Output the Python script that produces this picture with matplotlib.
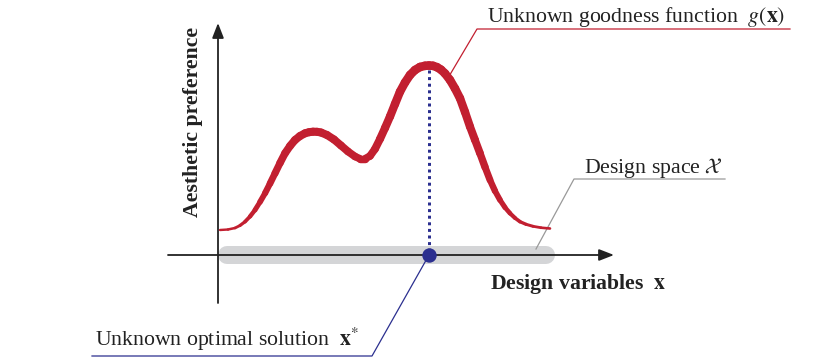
import matplotlib
matplotlib.use("Agg")
from matplotlib import pyplot as plt
from matplotlib.collections import LineCollection
import numpy as np

plt.rcParams['font.family'] = ['Liberation Serif', 'DejaVu Serif']
plt.rcParams['mathtext.fontset'] = 'stix'

# goodness curve (pixel-like coords, y grows downwards)
curve_x = [220, 228, 235, 240, 245, 250, 255, 260, 265, 270, 275, 280, 285, 290, 295, 300,
           305, 309, 313, 317, 321, 327, 334, 341, 348, 355, 360, 365, 370, 375, 380, 385,
           390, 395, 400, 405, 410, 415, 420, 425, 429, 433, 437, 441, 445, 450, 455, 460,
           465, 470, 475, 480, 485, 490, 495, 500, 505, 510, 515, 520, 526, 533, 541, 550]
curve_y = [230, 229.5, 228, 225.5, 221.7, 216.5, 210, 202, 193.3, 183.5, 173.3, 163, 153.3, 146, 140, 136,
           133.3, 132.2, 131.7, 131.8, 132.5, 135, 139.5, 145.5, 151.5, 156.5, 158.8, 158.8, 156, 149, 139, 128,
           116.5, 104, 91.7, 82.5, 75, 70, 67, 65.8, 65.5, 65.8, 67.2, 69.7, 73.5, 80, 88.5, 98.3,
           112, 126.7, 140, 153.3, 167, 180, 191, 200, 207.5, 213.3, 218, 221.7, 224.3, 226.3, 227.7, 228.5]

axis_y = 255          # x axis height
opt_x = 429           # optimum location
space_x = [227, 546]  # design space extent

label_goodness = r"Unknown goodness function  $g(\mathbf{x})$"
label_space = r"Design space $\mathcal{X}$"
label_opt = r"Unknown optimal solution  $\mathbf{x}^{*}$"
label_xaxis = r"Design variables  $\mathbf{x}$"
label_yaxis = "Aesthetic preference"

red = "#c21f30"
blue = "#2b2f8f"

fig = plt.figure(figsize=(8.3, 3.6), dpi=100)
ax = fig.add_axes([0, 0, 1, 1])
ax.set_xlim(0, 830)
ax.set_ylim(360, 0)
ax.axis("off")

px = 0.72  # points per pixel

# design space bar
ax.plot(space_x, [axis_y, axis_y], color="#d4d5d7", lw=18 * px, solid_capstyle="round", zorder=1)

# axes
ax.annotate("", xy=(614, axis_y), xytext=(168, axis_y),
            arrowprops=dict(arrowstyle="-|>,head_length=0.9,head_width=0.35", color="#222222",
                            lw=1.3, shrinkA=0, shrinkB=0), zorder=2)
ax.annotate("", xy=(218, 23), xytext=(218, 303),
            arrowprops=dict(arrowstyle="-|>,head_length=0.9,head_width=0.35", color="#222222",
                            lw=1.3, shrinkA=0, shrinkB=0), zorder=2)

# curve, thicker where it is higher
cx = np.array(curve_x, dtype=float)
cy = np.array(curve_y, dtype=float)
pts = np.column_stack([cx, cy]).reshape(-1, 1, 2)
segs = np.concatenate([pts[:-1], pts[1:]], axis=1)
h = axis_y - (cy[:-1] + cy[1:]) / 2
widths = (2.4 + 6.4 * (1 - np.exp(-(h - h.min()) / 45))) * px
lc = LineCollection(segs, colors=red, linewidths=widths, capstyle="round", joinstyle="round", zorder=3)
ax.add_collection(lc)

# optimum marker
peak_y = min(curve_y)
ax.plot([opt_x, opt_x], [peak_y + 4, axis_y], color=blue, lw=3 * px, linestyle=(0, (1, 1.2)), zorder=4)
ax.plot([opt_x], [axis_y], "o", color=blue, ms=13 * px, zorder=5)

# leader lines
ax.plot([448, 477, 790], [78, 29, 29], color=red, lw=0.9, zorder=2)
ax.plot([536, 574, 725], [249, 179, 179], color="#999999", lw=0.9, zorder=2)
ax.plot([opt_x, 372, 92], [axis_y, 356, 356], color=blue, lw=0.9, zorder=2)

# texts
fs = 15.7
ax.text(487, 22, label_goodness, fontsize=fs, ha="left", va="baseline", color="#222222")
ax.text(584, 173, label_space, fontsize=fs, ha="left", va="baseline", color="#222222")
ax.text(95, 346, label_opt, fontsize=fs, ha="left", va="baseline", color="#222222")
ax.text(490, 289, label_xaxis, fontsize=fs, ha="left", va="baseline", color="#222222", fontweight="bold")
ax.text(193, 122, label_yaxis, fontsize=fs, ha="center", va="center", rotation=90,
        color="#222222", fontweight="bold")

fig.savefig("out.png", dpi=100)
